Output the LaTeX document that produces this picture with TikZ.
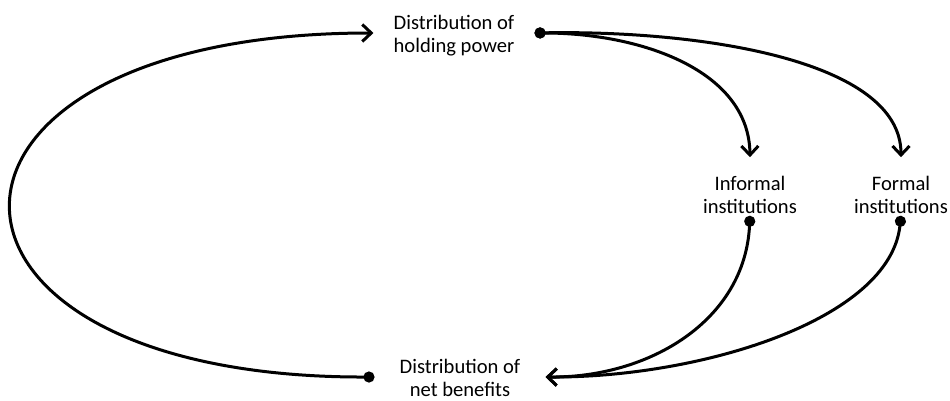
\documentclass[tikz,border=0pt]{standalone}
\usepackage{fontspec}
\setmainfont{Carlito}
\usetikzlibrary{arrows.meta}

\begin{document}
\begin{tikzpicture}[
  x=1pt, y=-1pt,
  font=\fontsize{20.6}{22.8}\selectfont,
  lbl/.style={align=center, inner ysep=2pt, inner xsep=20pt},
  link/.style={draw=black, line width=3pt,
               {Circle[length=11pt]}-{Straight Barb[length=9pt, width=17pt]}}]
  \useasboundingbox (0,0) rectangle (950,401);
  \node[lbl] (hp) at (454, 36) {Distribution of\\holding power};
  \node[lbl, inner xsep=25pt] (nb) at (460, 378) {Distribution of\\net benefits};
  \node[lbl, inner xsep=0pt] (inf) at (750, 195) {Informal\\institutions};
  \node[lbl, inner xsep=0pt] (frm) at (901, 195) {Formal\\institutions};
  % power shapes the institutions
  \draw[link] ([yshift=3pt]hp.east) .. controls (640,33) and (749,70) .. ([yshift=17pt]inf.north);
  \draw[link] ([yshift=3pt]hp.east) .. controls (700,30) and (901,60) .. ([yshift=17pt]frm.north);
  % institutions shape the benefits
  \draw[link] (inf.south) .. controls (745,320) and (650,378) .. ([yshift=1pt]nb.east);
  \draw[link] (frm.south) .. controls (890,320) and (700,378) .. ([yshift=1pt]nb.east);
  % benefits feed back into power
  \draw[link] ([yshift=1pt]nb.west) .. controls (-110,378) and (-110,33) .. ([yshift=3pt]hp.west);
\end{tikzpicture}
\end{document}
